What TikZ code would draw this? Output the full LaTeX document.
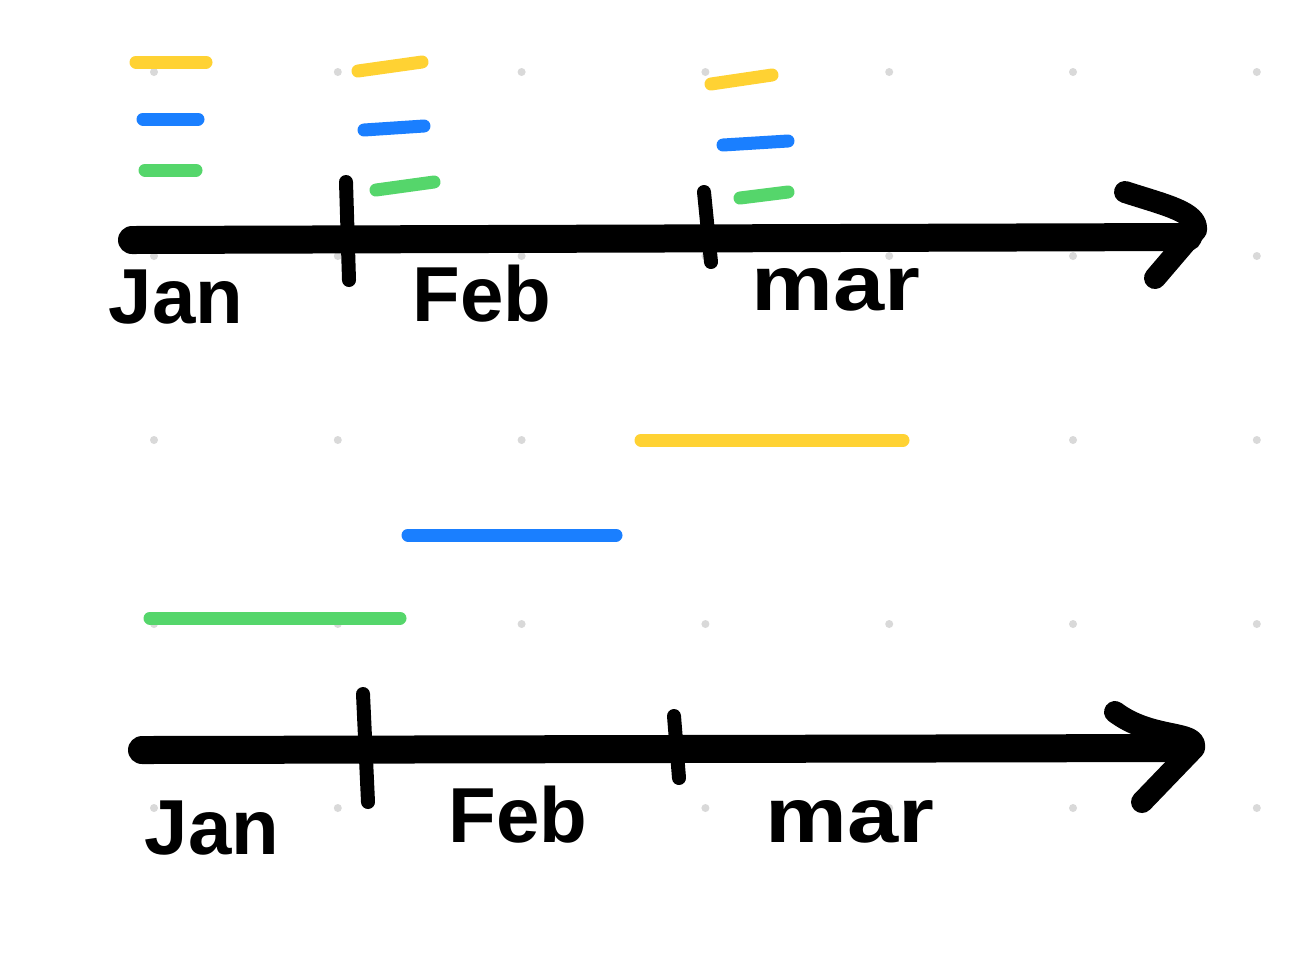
\documentclass[tikz,border=0pt]{standalone}
\usepackage{fontspec}
\setmainfont{Liberation Sans}
\definecolor{dotgray}{HTML}{D9D9D9}
\definecolor{pyellow}{HTML}{FFD233}
\definecolor{pblue}{HTML}{1A7FFF}
\definecolor{pgreen}{HTML}{55D66B}
\tikzset{
  axisline/.style={line width=14pt, line cap=round, line join=round},
  tickline/.style={line width=7pt, line cap=round},
  headline/.style={line width=11pt, line cap=round, line join=round},
  barline/.style={line width=6.5pt, line cap=round},
  month/.style={font=\bfseries\fontsize{39}{42}\selectfont, inner sep=0pt},
  widemonth/.style={month, xscale=1.18}
}
\begin{document}
\begin{tikzpicture}[x=0.5pt,y=-0.5pt]
\useasboundingbox (0,0) rectangle (1304,966);
\fill[white] (0,0) rectangle (1304,966);
% dot grid
\foreach \i in {0,...,6}{
  \foreach \j in {0,...,4}{
    \fill[dotgray] ({154+183.8*\i},{72+184*\j}) circle (4);
  }
}
% ---------- top timeline ----------
\coordinate (t0) at (132,240);
\coordinate (t1) at (1188,237);
\draw[axisline] (t0) -- (t1);
\draw[headline] (1125,192) .. controls (1165,205) and (1198,212) .. (1196,230) -- (1155,278);
\draw[tickline] (346,182) -- (349,280);
\draw[tickline] (704,192) -- (711,262);
\draw[barline,pyellow] (136,62) -- (206,62);
\draw[barline,pblue] (143,119) -- (198,119);
\draw[barline,pgreen] (145,170) -- (196,170);
\draw[barline,pyellow] (358,71) -- (422,62);
\draw[barline,pblue] (364,130) -- (424,126);
\draw[barline,pgreen] (376,190) -- (434,182);
\draw[barline,pyellow] (711,84) -- (772,75);
\draw[barline,pblue] (723,145) -- (788,141);
\draw[barline,pgreen] (740,198) -- (788,192);
\node[month] (tjan) at (176,297) {Jan};
\node[month] (tfeb) at (482,294) {Feb};
\node[widemonth] (tmar) at (836,290) {mar};
% ---------- bottom timeline ----------
\coordinate (b0) at (142,750);
\coordinate (b1) at (1185,748);
\draw[axisline] (b0) -- (b1);
\draw[headline] (1115,712) .. controls (1152,740) and (1198,730) .. (1194,748) -- (1142,802);
\draw[tickline] (363,694) -- (368,802);
\draw[tickline] (674,716) -- (679,778);
\draw[barline,pyellow] (641,440) -- (903,440);
\draw[barline,pblue] (408,535) -- (616,535);
\draw[barline,pgreen] (150,618) -- (400,618);
\node[month] (bjan) at (212,828) {Jan};
\node[month] (bfeb) at (518,815) {Feb};
\node[widemonth] (bmar) at (850,822) {mar};
\end{tikzpicture}
\end{document}
